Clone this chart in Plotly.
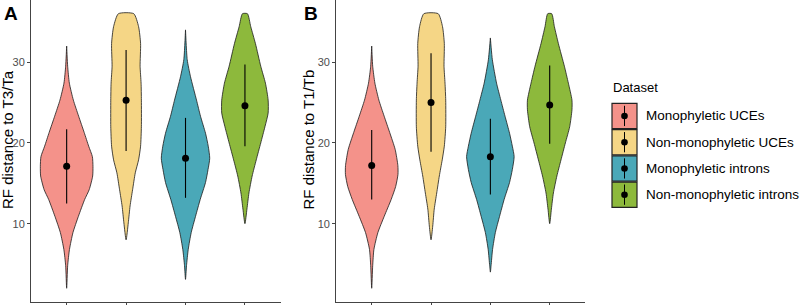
import plotly.graph_objects as go

# ---------------- data ----------------
groups = ["Monophyletic UCEs", "Non-monophyletic UCEs", "Monophyletic introns", "Non-monophyletic introns"]
colors = ["#F4928A", "#F5D686", "#4AA8B8", "#8DB93C"]
positions = [1, 2, 3, 4]

# Panel A: RF distance to T3/Ta  (density profile: y levels and half-width readings)
A_pink_y = [2.0, 4.8, 6.8, 8.9, 10.9, 13.0, 14.2, 15.9, 17.1, 18.3, 19.6, 21.3, 23.3, 25.3, 27.4, 29.5, 32.0]
A_pink_d = [0, 1.0, 2.8, 6.3, 11.7, 18.0, 22.5, 26.0, 26.3, 25.7, 22.0, 17.5, 12.0, 6.7, 2.7, 1.0, 0]
A_yellow_y = [8.0, 10.1, 12.2, 14.2, 16.3, 17.9, 19.6, 22.0, 25.3, 27.4, 29.5, 32.3, 34.4, 36.0]
A_yellow_d = [0, 2.2, 4.0, 6.5, 9.2, 12.5, 14.5, 15.3, 15.3, 15.0, 14.0, 14.5, 12.5, 7.7]
A_teal_y = [3.1, 4.8, 6.8, 8.9, 10.9, 13.0, 15.1, 16.7, 18.1, 19.6, 21.2, 23.3, 25.3, 28.2, 30.3, 34.0]
A_teal_d = [0, 1.0, 2.7, 5.7, 10.0, 14.7, 20.0, 22.5, 24.2, 22.7, 20.0, 15.0, 11.0, 5.0, 1.7, 0]
A_green_y = [10.0, 11.8, 13.8, 15.9, 17.9, 20.0, 22.0, 23.7, 25.3, 27.4, 29.5, 32.3, 34.4, 36.0]
A_green_d = [0, 2.0, 4.0, 7.2, 11.3, 15.8, 20.0, 23.2, 23.2, 20.5, 15.8, 10.5, 5.8, 2.5]
A_mean = [17.1, 25.3, 18.1, 24.6]
A_low = [12.5, 19.0, 13.2, 19.6]
A_high = [21.7, 31.5, 23.1, 29.7]

# Panel B: RF distance to T1/Tb
B_pink_y = [2.0, 4.8, 6.8, 8.9, 10.9, 13.0, 14.6, 16.1, 17.2, 19.2, 21.3, 23.3, 25.3, 27.4, 29.5, 32.0]
B_pink_d = [0, 1.0, 2.2, 6.2, 12.5, 19.5, 24.0, 26.3, 26.2, 23.5, 18.0, 12.5, 7.2, 3.2, 1.0, 0]
B_yellow_y = [8.0, 9.7, 11.8, 13.8, 15.9, 17.9, 19.6, 22.0, 25.3, 27.4, 29.5, 32.3, 34.4, 36.0]
B_yellow_d = [0, 1.7, 3.2, 5.7, 8.3, 11.2, 13.3, 14.7, 14.7, 14.0, 13.0, 13.3, 11.5, 7.2]
B_teal_y = [4.0, 4.8, 6.8, 8.9, 10.9, 13.0, 15.1, 16.7, 18.3, 19.6, 21.2, 23.3, 25.3, 27.4, 30.3, 33.0]
B_teal_d = [0, 0.7, 2.2, 5.0, 9.2, 13.8, 19.2, 22.0, 23.8, 22.0, 19.2, 14.7, 10.5, 6.2, 2.0, 0]
B_green_y = [10.0, 11.8, 13.8, 15.9, 17.9, 20.0, 22.0, 24.1, 25.3, 27.4, 29.5, 32.3, 34.4, 36.0]
B_green_d = [0, 1.7, 3.7, 7.2, 11.3, 15.7, 20.0, 22.3, 22.3, 18.7, 14.7, 8.7, 4.7, 2.0]
B_mean = [17.2, 25.0, 18.3, 24.7]
B_low = [13.0, 18.9, 13.6, 19.9]
B_high = [21.6, 31.1, 23.0, 29.6]

y_ticks = [10, 20, 30]
y_titles = ["RF distance to T3/Ta", "RF distance to T1/Tb"]
panel_tags = ["A", "B"]
legend_title = "Dataset"

# ---------------- figure ----------------
W, H = 800, 305
FONT = "Liberation Sans, Arial, sans-serif"
DENS_SCALE = 1 / 59.4  # density readings -> x-axis units

panels = [
    ([(A_pink_y, A_pink_d), (A_yellow_y, A_yellow_d), (A_teal_y, A_teal_d), (A_green_y, A_green_d)], A_mean, A_low, A_high),
    ([(B_pink_y, B_pink_d), (B_yellow_y, B_yellow_d), (B_teal_y, B_teal_d), (B_green_y, B_green_d)], B_mean, B_low, B_high),
]

fig = go.Figure()
for p, (profiles, means, lows, highs) in enumerate(panels):
    xa = "x" if p == 0 else "x2"
    ya = "y" if p == 0 else "y2"
    for i, (ys, ds) in enumerate(profiles):
        c = positions[i]
        xs = [c + d * DENS_SCALE for d in ds] + [c - d * DENS_SCALE for d in reversed(ds)]
        yy = list(ys) + list(reversed(ys))
        fig.add_trace(go.Scatter(
            x=xs, y=yy, mode="lines", fill="toself", fillcolor=colors[i],
            line=dict(color="#1a1a1a", width=0.8, shape="spline", smoothing=0.6),
            xaxis=xa, yaxis=ya, showlegend=False, hoverinfo="skip"))
    fig.add_trace(go.Scatter(
        x=positions, y=means, mode="markers",
        marker=dict(color="black", size=7),
        error_y=dict(type="data", symmetric=False,
                     array=[h - m for h, m in zip(highs, means)],
                     arrayminus=[m - l for m, l in zip(means, lows)],
                     width=0, thickness=1.1, color="black"),
        xaxis=xa, yaxis=ya, showlegend=False))

axis_common = dict(showgrid=False, zeroline=False, showline=True, linecolor="#444444", linewidth=1,
                   ticks="outside", ticklen=3, tickcolor="#444444", tickwidth=1, automargin=False)
ybot = 3 / H
fig.update_layout(
    template="none",
    width=W, height=H, margin=dict(l=0, r=0, t=0, b=0, pad=0),
    paper_bgcolor="white", plot_bgcolor="white",
    font=dict(family=FONT, color="#000000"),
    xaxis=dict(domain=[31 / W, 280.6 / W], range=[0.4, 4.6], tickvals=positions, showticklabels=False, **axis_common),
    xaxis2=dict(domain=[336.1 / W, 585.3 / W], range=[0.4, 4.6], tickvals=positions, showticklabels=False, anchor="y2", **axis_common),
    yaxis=dict(domain=[ybot, 1], range=[0.3, 37.7], tickvals=y_ticks,
               tickfont=dict(size=11, color="#4D4D4D", family=FONT), **axis_common),
    yaxis2=dict(domain=[ybot, 1], range=[0.3, 37.7], tickvals=y_ticks, anchor="x2",
                tickfont=dict(size=11, color="#4D4D4D", family=FONT), **axis_common),
    showlegend=False,
)

ann = []
for k, (tx, ttl_x) in enumerate([(2, 7.0), (302, 307.5)]):
    ann.append(dict(text="<b>%s</b>" % panel_tags[k], x=tx / W, y=1 - 1 / H, xref="paper", yref="paper",
                    xanchor="left", yanchor="top", showarrow=False, font=dict(size=19, family=FONT, color="black")))
    ann.append(dict(text=y_titles[k], x=ttl_x / W, y=1 - 140 / H, xref="paper", yref="paper",
                    xanchor="center", yanchor="middle", textangle=-90, showarrow=False,
                    font=dict(size=15, family=FONT, color="black")))

# legend (manual, ggplot-style keys)
ann.append(dict(text=legend_title, x=611 / W, y=1 - 88 / H, xref="paper", yref="paper",
                xanchor="left", yanchor="middle", showarrow=False, font=dict(size=13, family=FONT, color="black")))
shapes = []
key_top = 103.3
key_h = 26.25
for i, g in enumerate(groups):
    t = key_top + i * key_h
    b = t + key_h - 1
    shapes.append(dict(type="rect", xref="paper", yref="paper", x0=612 / W, x1=637 / W,
                       y0=1 - t / H, y1=1 - b / H, fillcolor=colors[i], line=dict(color="#222222", width=1.2)))
    cy = (t + b) / 2
    shapes.append(dict(type="line", xref="paper", yref="paper", x0=624.5 / W, x1=624.5 / W,
                       y0=1 - (t + 2.5) / H, y1=1 - (b - 2.5) / H, line=dict(color="black", width=1)))
    shapes.append(dict(type="circle", xref="paper", yref="paper", x0=621.2 / W, x1=627.8 / W,
                       y0=1 - (cy - 3.3) / H, y1=1 - (cy + 3.3) / H, fillcolor="black", line=dict(color="black", width=0)))
    ann.append(dict(text=g, x=644 / W, y=1 - cy / H, xref="paper", yref="paper",
                    xanchor="left", yanchor="middle", showarrow=False, font=dict(size=13.5, family=FONT, color="black")))

fig.update_layout(annotations=ann, shapes=shapes)
fig.write_html("out.html", config={"displayModeBar": False},
               post_script="document.body.style.margin='0';document.body.style.overflow='hidden';")
